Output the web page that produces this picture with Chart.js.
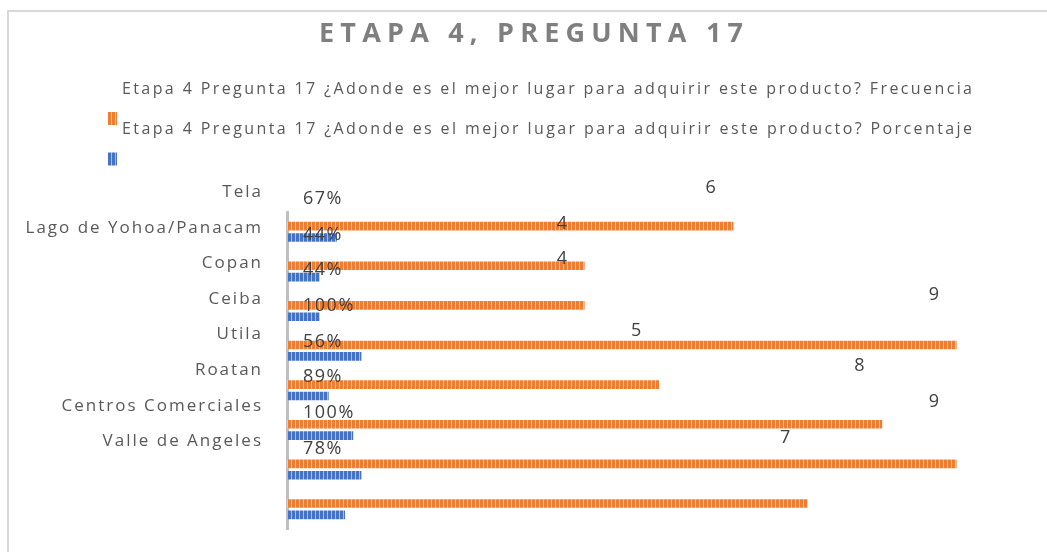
<!DOCTYPE html>
<html>
<head>
<meta charset="utf-8">
<script src="https://cdn.jsdelivr.net/npm/chart.js@4/dist/chart.umd.min.js"></script>
<style>
  body { margin: 0; background: #fff; }
  canvas { display: block; }
</style>
</head>
<body>
<canvas id="chart" width="1047" height="552"></canvas>
<script>
const chartTitle = 'ETAPA 4, PREGUNTA 17';
const categories = ['Tela', 'Lago de Yohoa/Panacam', 'Copan', 'Ceiba', 'Utila', 'Roatan', 'Centros Comerciales', 'Valle de Angeles'];
const seriesNames = [
    'Etapa 4 Pregunta 17 ¿Adonde es el mejor lugar para adquirir este producto? Frecuencia',
    'Etapa 4 Pregunta 17 ¿Adonde es el mejor lugar para adquirir este producto? Porcentaje'
];
const frecuencia = [6, 4, 4, 9, 5, 8, 9, 7];
const porcentaje = [0.67, 0.44, 0.44, 1.00, 0.56, 0.89, 1.00, 0.78];

const FONT = "'Open Sans', sans-serif";

// vertical striped fill like the Excel pattern
const stripes = (base, light) => {
    const c = document.createElement('canvas');
    c.width = 4;
    c.height = 1;
    const g = c.getContext('2d');
    g.fillStyle = base;
    g.fillRect(0, 0, 3, 1);
    g.fillStyle = light;
    g.fillRect(3, 0, 1, 1);
    return g.createPattern(c, 'repeat');
};

const orange = stripes('#ED7D31', '#F7C3A0');
const blue = stripes('#4472C4', '#A9BEE6');

// draw text stretched with letter spacing to a given width
const spacedText = (ctx, text, x, y, width) => {
    ctx.letterSpacing = '0px';
    const natural = ctx.measureText(text).width;
    const sp = (width - natural) / (text.length - 1);
    ctx.letterSpacing = sp + 'px';
    ctx.fillText(text, x, y);
    ctx.letterSpacing = '0px';
};

const decor = {
    id: 'decor',
    beforeDraw: (chart) => {
        const ctx = chart.ctx;
        ctx.save();
        ctx.fillStyle = '#fff';
        ctx.fillRect(0, 0, chart.width, chart.height);
        ctx.strokeStyle = '#d9d9d9';
        ctx.lineWidth = 2;
        ctx.strokeRect(8, 11, chart.width + 20, chart.height + 20);
        ctx.restore();
    },
    afterDraw: (chart) => {
        const ctx = chart.ctx;
        const area = chart.chartArea;
        const yScale = chart.scales.y;
        const slot = (yScale.getPixelForValue(1) - yScale.getPixelForValue(0)) * 0.9;
        ctx.save();
        ctx.textBaseline = 'middle';

        // title
        ctx.fillStyle = '#7f7f7f';
        ctx.font = 'bold 27px ' + FONT;
        ctx.textAlign = 'left';
        spacedText(ctx, chartTitle, 319, 34, 424);

        // legend: text line then swatch below
        ctx.font = '16px ' + FONT;
        ctx.fillStyle = '#595959';
        chart.data.datasets.forEach((ds, i) => {
            const ty = 89 + i * 40.5;
            spacedText(ctx, ds.label, 122, ty, 850);
            ctx.fillStyle = ds.backgroundColor;
            ctx.fillRect(108, ty + 23, 9, 13);
            ctx.fillStyle = '#595959';
        });

        // category labels
        ctx.font = '17px ' + FONT;
        ctx.textAlign = 'right';
        ctx.letterSpacing = '2px';
        chart.data.labels.forEach((lab, i) => {
            ctx.fillText(lab, area.left - 24, area.top - 20 + i * slot);
        });

        // data labels
        ctx.font = '18px ' + FONT;
        ctx.fillStyle = '#404040';
        ctx.letterSpacing = '1.5px';
        const m0 = chart.getDatasetMeta(0);
        ctx.textAlign = 'center';
        m0.data.forEach((bar, i) => {
            ctx.fillText(String(frecuencia[i]), bar.x - 22, area.top - 24 + i * slot);
        });
        ctx.textAlign = 'left';
        porcentaje.forEach((v, i) => {
            ctx.fillText(Math.round(v * 100) + '%', area.left + 16, area.top - 13 + i * slot);
        });
        ctx.restore();
    }
};

new Chart(document.getElementById('chart'), {
    type: 'bar',
    data: {
        labels: categories,
        datasets: [{
            label: seriesNames[0],
            data: frecuencia,
            backgroundColor: orange,
            categoryPercentage: 0.58,
            barPercentage: 0.75
        }, {
            label: seriesNames[1],
            data: porcentaje,
            backgroundColor: blue,
            categoryPercentage: 0.58,
            barPercentage: 0.75
        }]
    },
    options: {
        indexAxis: 'y',
        responsive: false,
        animation: false,
        devicePixelRatio: 1,
        layout: {
            padding: { left: 287, top: 212, right: 16, bottom: 23 }
        },
        scales: {
            x: {
                display: false,
                min: 0,
                max: 10
            },
            y: {
                display: true,
                grid: { display: false, drawTicks: false },
                ticks: { display: false },
                border: { display: true, color: '#bfbfbf', width: 3 }
            }
        },
        plugins: {
            legend: { display: false },
            tooltip: { enabled: false },
            title: { display: false }
        }
    },
    plugins: [decor]
});
</script>
</body>
</html>
